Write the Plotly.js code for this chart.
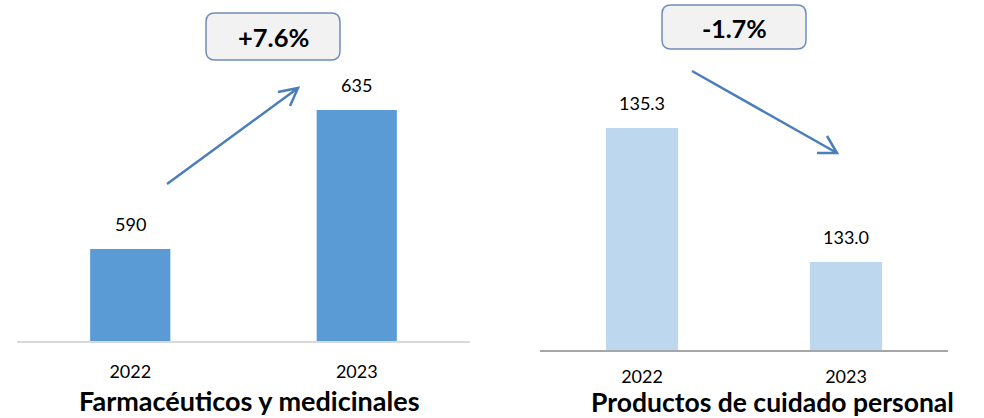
<!DOCTYPE html>
<html>
<head>
<meta charset="utf-8">
<script src="https://cdn.plot.ly/plotly-3.0.1.min.js"></script>
<style>html,body{margin:0;padding:0;background:#fff;}#chart{width:984px;height:418px;}</style>
</head>
<body>
<div id="chart"></div>
<script>
// ---- data ----
const years = ["2022", "2023"];
const pharmaValues = [590, 635];
const personalCareValues = [135.3, 133.0];
const pharmaTitle = "Farmacéuticos y medicinales";
const personalCareTitle = "Productos de cuidado personal";
const pharmaChange = "+7.6%";
const personalCareChange = "-1.7%";

// ---- helpers (pixel -> paper) ----
const W = 984, H = 418;
const px = v => v / W;
const py = v => 1 - v / H;
const idx = years.map((_, i) => i);

const FONT = "Lato, 'Open Sans', sans-serif";

const traces = [
  {
    type: "bar", x: idx, y: pharmaValues, xaxis: "x", yaxis: "y",
    marker: {color: "#5b9bd5"}, hoverinfo: "skip"
  },
  {
    type: "bar", x: idx, y: personalCareValues, xaxis: "x2", yaxis: "y2",
    marker: {color: "#bdd7ee"}, hoverinfo: "skip"
  }
];

const annotations = [];
idx.forEach(i => {
  annotations.push({
    xref: "x", yref: "y", x: i, y: pharmaValues[i], text: String(pharmaValues[i]),
    showarrow: false, yanchor: "bottom", yshift: 12,
    font: {family: FONT, size: 18, color: "#000"}
  });
  annotations.push({
    xref: "x2", yref: "y2", x: i, y: personalCareValues[i], text: personalCareValues[i].toFixed(1),
    showarrow: false, yanchor: "bottom", yshift: 12,
    font: {family: FONT, size: 18, color: "#000"}
  });
});
// subplot titles
annotations.push({xref: "paper", yref: "paper", x: px(249), y: py(400), text: "<b>" + pharmaTitle + "</b>",
  showarrow: false, xanchor: "center", yanchor: "middle", font: {family: FONT, size: 27, color: "#000"}});
annotations.push({xref: "paper", yref: "paper", x: px(772), y: py(402.3), text: "<b>" + personalCareTitle + "</b>",
  showarrow: false, xanchor: "center", yanchor: "middle", font: {family: FONT, size: 26.5, color: "#000"}});
// change labels
annotations.push({xref: "paper", yref: "paper", x: px(273), y: py(37), text: "<b>" + pharmaChange + "</b>",
  showarrow: false, xanchor: "center", yanchor: "middle", font: {family: FONT, size: 25.5, color: "#000"}});
annotations.push({xref: "paper", yref: "paper", x: px(734), y: py(28), text: "<b>" + personalCareChange + "</b>",
  showarrow: false, xanchor: "center", yanchor: "middle", font: {family: FONT, size: 25, color: "#000"}});

function roundRect(x0, y0, x1, y1, r) {
  const X = v => px(v), Y = v => py(v);
  return `M ${X(x0 + r)},${Y(y0)} L ${X(x1 - r)},${Y(y0)} Q ${X(x1)},${Y(y0)} ${X(x1)},${Y(y0 + r)} ` +
         `L ${X(x1)},${Y(y1 - r)} Q ${X(x1)},${Y(y1)} ${X(x1 - r)},${Y(y1)} ` +
         `L ${X(x0 + r)},${Y(y1)} Q ${X(x0)},${Y(y1)} ${X(x0)},${Y(y1 - r)} ` +
         `L ${X(x0)},${Y(y0 + r)} Q ${X(x0)},${Y(y0)} ${X(x0 + r)},${Y(y0)} Z`;
}
function arrowPath(x0, y0, x1, y1, a1x, a1y, a2x, a2y) {
  return `M ${px(x0)},${py(y0)} L ${px(x1)},${py(y1)} M ${px(a1x)},${py(a1y)} L ${px(x1)},${py(y1)} L ${px(a2x)},${py(a2y)}`;
}

const shapes = [
  {type: "path", xref: "paper", yref: "paper", path: roundRect(206, 13, 340, 60, 9),
   fillcolor: "#f2f2f2", line: {color: "#6f8db9", width: 1.5}},
  {type: "path", xref: "paper", yref: "paper", path: roundRect(662, 5, 806, 49, 9),
   fillcolor: "#f2f2f2", line: {color: "#6f8db9", width: 1.5}},
  {type: "path", xref: "paper", yref: "paper", path: arrowPath(167, 184, 298, 88, 278, 92, 290, 106),
   line: {color: "#4a7ebb", width: 2.5}},
  {type: "path", xref: "paper", yref: "paper", path: arrowPath(692, 71, 837, 153, 817, 153, 827, 136),
   line: {color: "#4a7ebb", width: 2.5}}
];

const layout = {
  width: W, height: H,
  margin: {l: 0, r: 0, t: 0, b: 0},
  paper_bgcolor: "#fff", plot_bgcolor: "rgba(0,0,0,0)",
  showlegend: false,
  bargap: 0.646,
  xaxis: {
    domain: [px(17), px(470)], anchor: "y", range: [-0.5, 1.5],
    tickmode: "array", tickvals: idx, ticktext: years,
    showline: true, linecolor: "#d9d9d9", linewidth: 2, ticks: "", showgrid: false, zeroline: false,
    tickfont: {family: FONT, size: 18, color: "#000"}, ticklabelstandoff: 13
  },
  yaxis: {
    domain: [py(341), 1], anchor: "x", range: [560.2, 560.2 + 341 / 3.089],
    visible: false, showgrid: false, zeroline: false
  },
  xaxis2: {
    domain: [px(540), px(948)], anchor: "y2", range: [-0.5, 1.5],
    tickmode: "array", tickvals: idx, ticktext: years,
    showline: true, linecolor: "#a6a6a6", linewidth: 1.5, ticks: "", showgrid: false, zeroline: false,
    tickfont: {family: FONT, size: 18, color: "#000"}, ticklabelstandoff: 10
  },
  yaxis2: {
    domain: [py(350), 1], anchor: "x2", range: [131.49, 131.49 + 350 / 58.26],
    visible: false, showgrid: false, zeroline: false
  },
  annotations: annotations,
  shapes: shapes
};

Plotly.newPlot("chart", traces, layout, {staticPlot: true, displayModeBar: false});
</script>
</body>
</html>
